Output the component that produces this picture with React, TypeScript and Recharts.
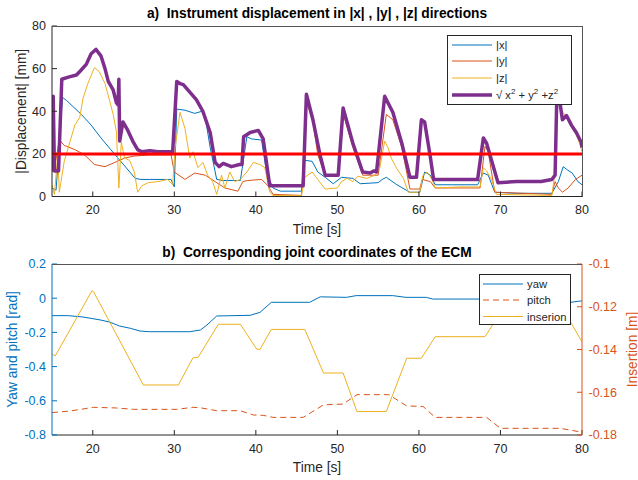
import React from "react";
import { Legend, Line, LineChart, ReferenceLine, XAxis, YAxis } from "recharts";

// ---- axes ----
const timeTicks = [20, 30, 40, 50, 60, 70, 80];
const dispTicks = [0, 20, 40, 60, 80];
const radTicks = [-0.8, -0.6, -0.4, -0.2, 0, 0.2];
const insTicks = [-0.18, -0.16, -0.14, -0.12, -0.1];
const threshold = 20;

// ---- a) displacement [mm] ----
const xT = [15, 15.5, 16.3, 16.8, 18.6, 19.8, 21, 22.2, 23.1, 24.1, 25.2, 25.9, 27, 29.6, 30, 30.3, 31.3, 32.5, 33.4, 33.8, 34.4, 35.2, 36, 38.1, 38.9, 39.5, 40.7, 41.3, 42.1, 43, 45.6, 46, 46.9, 47.6, 48.5, 49.5, 50.5, 51.9, 52.8, 55, 55.5, 56, 57.3, 58.9, 60.1, 60.7, 61.4, 62, 64, 67.2, 67.9, 68.5, 69.3, 72, 76.3, 77.1, 77.7, 78.2, 78.8, 79.5, 80];
const xV = [4, 3, 46.5, 45, 38.5, 33.5, 27.5, 22, 18, 13.5, 8.5, 8, 8, 8, 4.5, 41, 40.5, 39, 40, 37, 23, 8, 7.5, 7.5, 28, 27, 26.5, 11.5, 4, 2.5, 2.5, 17, 16.5, 11.5, 9, 6, 9, 8.5, 6, 6.5, 8, 9, 5.5, 2, 2, 11.5, 10, 5.5, 5.5, 5.5, 11, 10, 2, 1.5, 1.5, 7, 14, 12.5, 11, 7, 5.5];

const yT = [15, 15.3, 15.9, 16.5, 17.8, 19, 20.2, 21.5, 22.7, 23.9, 25.1, 27, 29.6, 30, 31.3, 32.5, 33.8, 35, 36.2, 37.8, 38.4, 39, 40.7, 41.5, 42.1, 45.6, 46.2, 47, 47.6, 48.5, 50.1, 50.7, 51.9, 53.1, 55, 56, 56.8, 57.9, 58.9, 60.1, 60.4, 61.4, 62, 67.5, 68.1, 68.5, 69.3, 76.3, 76.7, 77.1, 77.6, 78.3, 79.2, 80];
const yV = [11.5, 13, 26.5, 24, 22, 19.5, 15, 14, 16, 18, 19, 19.5, 19.5, 11.5, 8, 11, 10, 7, 4, 2.5, 7, 7.5, 8, 5, 1, 0.5, 45, 35, 19.5, 10, 9.5, 39, 23, 10, 10, 38.5, 36, 23, 3.5, 3.5, 8, 7, 4, 4, 23.5, 21, 2, 1, 7, 4, 2, 4, 8, 10];

const zT = [15, 15.3, 15.7, 15.9, 16.5, 17, 17.8, 18.4, 18.8, 19.4, 20.2, 20.8, 21.5, 22.1, 22.5, 22.9, 23.2, 23.5, 23.9, 24.5, 25.1, 25.5, 26, 26.8, 28, 29.2, 29.8, 30.1, 30.7, 31.3, 31.9, 32.3, 32.9, 33.5, 34.1, 34.7, 35.2, 35.8, 36.2, 36.8, 37.4, 38.1, 38.9, 39.7, 40.5, 41.1, 41.7, 42.1, 45.6, 46, 46.9, 47.6, 48.5, 50, 50.5, 51.2, 51.9, 52.5, 53.6, 54.6, 55.2, 55.8, 56.2, 56.6, 57.3, 58.1, 58.7, 60.1, 60.5, 61, 61.6, 62, 65, 67.5, 67.9, 68.3, 68.9, 69.5, 76.3, 76.7, 76.9, 77.2, 77.5, 77.9, 78.7, 79.3, 79.7, 80];
const zV = [5.5, 1, 19.5, 2, 16.5, 23, 33.5, 37, 46, 53, 60.5, 58.5, 53, 44.5, 38.5, 30.5, 4, 25.5, 18, 17, 11.5, 2, 5, 6.5, 7, 8, 5.5, 23, 39.5, 32, 18, 21, 13.5, 16, 10, 7, 1, 10, 4, 11.5, 7, 8, 11.5, 16, 15, 13.5, 2, 0.5, 0.5, 9, 11.5, 8, 3.5, 4, 7, 8.5, 7, 9.5, 8.5, 10, 13.5, 26, 23, 18, 13, 8.5, 2, 2, 10, 11.5, 8, 4, 4.5, 4.5, 13.5, 12, 8, 1, 0.5, 11.5, 43, 50, 40, 38.5, 32.5, 29, 25, 21];

const mT = [15, 15.15, 15.3, 15.8, 16.2, 17, 18, 18.5, 19.2, 19.8, 20.4, 21, 21.5, 21.9, 22.5, 22.9, 23.1, 23.2, 23.3, 23.7, 24.3, 24.9, 25.5, 26, 27, 28, 29, 29.8, 30.3, 30.7, 31.1, 31.9, 32.7, 33.5, 34.4, 35, 35.5, 36, 37, 38, 38.3, 38.5, 39.3, 40.3, 40.9, 41.7, 43, 45, 45.8, 46.2, 47, 47.9, 48.5, 49.5, 50.1, 50.7, 51.9, 53.1, 54, 54.5, 54.8, 55.8, 56.8, 57.9, 58.9, 59.7, 60.3, 60.7, 61.4, 61.8, 63, 65, 67.2, 67.9, 68.3, 69.7, 72, 75, 76.3, 76.7, 76.9, 77.1, 77.3, 77.6, 78.1, 78.7, 79.3, 79.9, 80];
const mV = [12, 47, 12, 12, 55, 56, 57, 59, 62, 67, 69, 66, 60, 54, 50, 44, 43, 55, 26, 35, 31, 26, 22, 21, 21.5, 21, 21, 21, 54, 53, 52.5, 49, 45.5, 40, 30, 16, 14, 15.5, 14, 15, 15, 28, 30, 31, 27, 5, 5, 5, 5, 48, 36, 19, 10, 10, 10, 41.5, 25, 11.5, 11, 12, 11.5, 47, 39.5, 25, 9, 9, 36, 35, 18.5, 8, 8, 8, 8, 27.5, 25, 6.5, 7, 7, 8, 10, 45, 56, 44, 36, 38, 33.5, 30, 25.5, 23];

// ---- b) ECM joints ----
const yawT = [15, 17, 18.8, 20.9, 22.1, 23.3, 24.6, 25.8, 27, 31.9, 33.2, 34, 35.2, 39.3, 40.5, 41.9, 46.6, 47.9, 51.1, 52.3, 56.8, 58.4, 60.9, 61.7, 68, 72, 77, 78.5, 79.5, 80];
const yawV = [-0.102, -0.102, -0.11, -0.127, -0.14, -0.163, -0.176, -0.192, -0.196, -0.196, -0.186, -0.157, -0.104, -0.1, -0.083, -0.024, -0.024, 0.008, 0.005, 0.015, 0.015, 0.005, 0.005, -0.005, -0.005, -0.01, -0.018, -0.025, -0.018, -0.016];

const pitchT = [15, 17.2, 20.1, 22.9, 25, 30.3, 32.3, 33.1, 35.2, 38.1, 39.7, 40.9, 42.1, 45.8, 48.3, 50.7, 52.4, 56.3, 58.5, 60.5, 62, 68.3, 70, 77.3, 79.7, 80];
const pitchV = [-0.669, -0.66, -0.638, -0.642, -0.65, -0.65, -0.638, -0.64, -0.658, -0.658, -0.683, -0.685, -0.697, -0.697, -0.624, -0.619, -0.564, -0.564, -0.63, -0.633, -0.697, -0.697, -0.761, -0.761, -0.781, -0.783];

const insT = [15, 15.4, 19.9, 20.1, 26.2, 30.5, 32.3, 32.9, 35.4, 38.1, 40.1, 40.5, 41.9, 46, 48.3, 50.7, 52.4, 56, 58.5, 60.3, 62, 68.1, 70.5, 77.5, 80];
const insV = [-0.1421, -0.143, -0.1125, -0.113, -0.1566, -0.1566, -0.1438, -0.1438, -0.1282, -0.1282, -0.1398, -0.14, -0.1306, -0.1306, -0.151, -0.151, -0.169, -0.169, -0.1441, -0.1441, -0.134, -0.134, -0.12, -0.12, -0.1364];

const pts = (t: number[], v: number[]) => t.map((x, i) => ({ t: x, v: v[i] }));

const FONT = "'Liberation Sans', Arial, Helvetica, sans-serif";
const AX = "#262626";
const BOX = "#555";
const BLUE = "#0072BD";
const ORANGE = "#D95319";
const YELLOW = "#EDB120";
const PURPLE = "#7E2F8E";

const vbOf = (p: any) => (p && p.viewBox ? p.viewBox : { x: 0, y: 0, width: 0, height: 0 });

const timeLabel = (p: any) => {
  const vb = vbOf(p);
  return (
    <text x={vb.x + vb.width / 2} y={vb.y + 37} textAnchor="middle" fontSize={13.75} fill={AX}>
      Time [s]
    </text>
  );
};

const sideLabel = (text: string, dx: number, color: string) => (p: any) => {
  const vb = vbOf(p);
  const cx = vb.x + dx;
  const cy = vb.y + vb.height / 2;
  return (
    <text x={cx} y={cy} transform={`rotate(-90 ${cx} ${cy})`} textAnchor="middle" dominantBaseline="central" fontSize={13.75} fill={color}>
      {text}
    </text>
  );
};

const sup = (s: string) => (
  <tspan dy={-5} fontSize={8}>
    {s}
  </tspan>
);

function DispLegend() {
  const rows = [
    { c: BLUE, label: "|x|" },
    { c: ORANGE, label: "|y|" },
    { c: YELLOW, label: "|z|" },
  ];
  const ys = [10, 26, 43, 60];
  return (
    <svg width={125} height={70} style={{ display: "block", background: "#fff" }}>
      <rect x={0.5} y={0.5} width={124} height={69} fill="#fff" stroke={AX} />
      {rows.map((r, i) => (
        <g key={r.label}>
          <line x1={5} x2={45} y1={ys[i]} y2={ys[i]} stroke={r.c} />
          <text x={49} y={ys[i]} dominantBaseline="central" fontSize={11.25} fill={AX}>
            {r.label}
          </text>
        </g>
      ))}
      <line x1={5} x2={45} y1={ys[3]} y2={ys[3]} stroke={PURPLE} strokeWidth={3.5} />
      <text x={49} y={ys[3] + 4} fontSize={11.25} fill={AX}>
        √ x{sup("2")}
        <tspan dy={5}> + y</tspan>
        {sup("2")}
        <tspan dy={5}> +z</tspan>
        {sup("2")}
      </text>
    </svg>
  );
}

function JointLegend() {
  const rows = [
    { c: BLUE, dash: undefined, label: "yaw" },
    { c: ORANGE, dash: "6 4", label: "pitch" },
    { c: YELLOW, dash: undefined, label: "inserion" },
  ];
  const ys = [10, 26, 42.5];
  return (
    <svg width={92} height={51} style={{ display: "block", background: "#fff" }}>
      <rect x={0.5} y={0.5} width={91} height={50} fill="#fff" stroke={AX} />
      {rows.map((r, i) => (
        <g key={r.label}>
          <line x1={4} x2={44} y1={ys[i]} y2={ys[i]} stroke={r.c} strokeDasharray={r.dash} />
          <text x={48} y={ys[i]} dominantBaseline="central" fontSize={11.25} fill={AX}>
            {r.label}
          </text>
        </g>
      ))}
    </svg>
  );
}

const titleStyle = (top: number): React.CSSProperties => ({
  position: "absolute",
  left: 52,
  width: 530,
  top,
  textAlign: "center",
  fontSize: 13.75,
  fontWeight: "bold",
  color: "#000",
  lineHeight: "16px",
  whiteSpace: "pre",
});

// MATLAB-style box edges (top / right) around the axes
const frame = (top: number, height: number, right: boolean): React.CSSProperties => ({
  position: "absolute",
  left: 52,
  top,
  width: 530,
  height,
  borderTop: `1px solid ${BOX}`,
  borderRight: right ? `1px solid ${BOX}` : "none",
  pointerEvents: "none",
});

const tickStyle = (c: string) => ({ fill: c, fontSize: 12.5 });

export default function App() {
  return (
    <div style={{ position: "absolute", left: 0, top: 0, width: 638, height: 480, background: "#fff", fontFamily: FONT }}>
      <LineChart width={638} height={240} margin={{ top: 26, right: 56, bottom: 0, left: 0 }}>
        <XAxis dataKey="t" type="number" domain={[15, 80]} ticks={timeTicks} allowDataOverflow height={43.5} stroke={AX} tickSize={-5} tickMargin={14} tick={tickStyle(AX)} label={timeLabel} />
        <YAxis type="number" domain={[0, 80]} ticks={dispTicks} allowDataOverflow width={52} stroke={AX} tickSize={-5} tickMargin={11} tick={tickStyle(AX)} label={sideLabel("|Displacement| [mm]", 21, AX)} />
        <Line data={pts(xT, xV)} dataKey="v" stroke={BLUE} strokeWidth={1} dot={false} isAnimationActive={false} />
        <Line data={pts(yT, yV)} dataKey="v" stroke={ORANGE} strokeWidth={1} dot={false} isAnimationActive={false} />
        <Line data={pts(zT, zV)} dataKey="v" stroke={YELLOW} strokeWidth={1} dot={false} isAnimationActive={false} />
        <Line data={pts(mT, mV)} dataKey="v" stroke={PURPLE} strokeWidth={3.5} strokeLinejoin="round" dot={false} isAnimationActive={false} />
        <ReferenceLine y={threshold} stroke="#FF0000" strokeWidth={3} />
        <Legend layout="vertical" verticalAlign="middle" align="center" content={() => <DispLegend />} wrapperStyle={{ left: 447, top: 35, width: 125, height: 70 }} />
      </LineChart>
      <div style={frame(26, 170, true)} />
      <div style={titleStyle(6)}>{"a)  Instrument displacement in |x| , |y| , |z| directions"}</div>
      <LineChart width={638} height={240} margin={{ top: 24, right: 0, bottom: 0, left: 0 }}>
        <XAxis dataKey="t" type="number" domain={[15, 80]} ticks={timeTicks} allowDataOverflow height={45} stroke={AX} tickSize={-5} tickMargin={14} tick={tickStyle(AX)} label={timeLabel} />
        <YAxis yAxisId="l" type="number" domain={[-0.8, 0.2]} ticks={radTicks} allowDataOverflow width={52} stroke={BLUE} tickSize={-5} tickMargin={11} tick={tickStyle(BLUE)} label={sideLabel("Yaw and pitch [rad]", 12, BLUE)} />
        <YAxis yAxisId="r" orientation="right" type="number" domain={[-0.18, -0.1]} ticks={insTicks} allowDataOverflow width={56} stroke={ORANGE} tickSize={-5} tickMargin={11.5} tick={tickStyle(ORANGE)} label={sideLabel("Insertion [m]", 50, ORANGE)} />
        <Line yAxisId="l" data={pts(yawT, yawV)} dataKey="v" stroke={BLUE} strokeWidth={1} dot={false} isAnimationActive={false} />
        <Line yAxisId="l" data={pts(pitchT, pitchV)} dataKey="v" stroke={ORANGE} strokeWidth={1} strokeDasharray="6 4" dot={false} isAnimationActive={false} />
        <Line yAxisId="r" data={pts(insT, insV)} dataKey="v" stroke={YELLOW} strokeWidth={1} dot={false} isAnimationActive={false} />
        <Legend layout="vertical" verticalAlign="middle" align="center" content={() => <JointLegend />} wrapperStyle={{ left: 479, top: 34, width: 92, height: 51 }} />
      </LineChart>
      <div style={frame(264, 1, false)} />
      <div style={titleStyle(245)}>{"b)  Corresponding joint coordinates of the ECM"}</div>
    </div>
  );
}
